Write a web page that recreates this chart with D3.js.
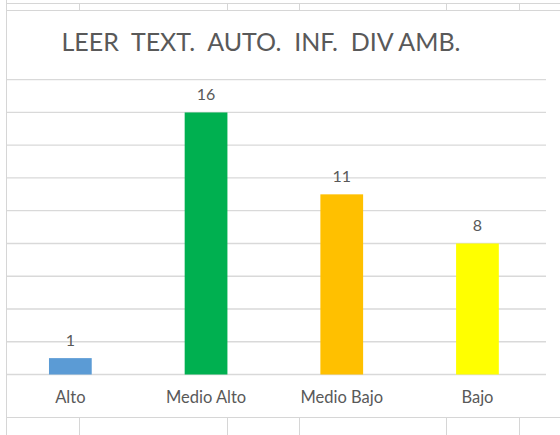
<!DOCTYPE html>
<html><head><meta charset="utf-8">
<script src="https://cdn.jsdelivr.net/npm/d3@7"></script>
<style>html,body{margin:0;padding:0;background:#fff;}svg{display:block;}</style>
</head><body>
<svg id="c" width="560" height="435"></svg>
<script>
const title = "LEER  TEXT.  AUTO.  INF.  DIV AMB.";
const categories = ["Alto", "Medio Alto", "Medio Bajo", "Bajo"];
const values = [1, 16, 11, 8];
const barColors = ["#5B9BD5", "#00B050", "#FFC000", "#FFFF00"];
const yTicks = [0, 2, 4, 6, 8, 10, 12, 14, 16, 18];
const cellCols = [79, 227, 299, 446, 519];

const svg = d3.select("#c");
const W = 560, H = 435;
const font = "Lato, 'Open Sans', sans-serif";
const textColor = "#595959";

// spreadsheet background grid
const bg = svg.append("g").attr("stroke", "#d6d6d6").attr("stroke-width", 1).attr("shape-rendering", "crispEdges");
bg.append("line").attr("x1", 7).attr("x2", W).attr("y1", 3.5).attr("y2", 3.5);
bg.append("line").attr("x1", 7).attr("x2", W).attr("y1", 10.5).attr("y2", 10.5);
bg.append("line").attr("x1", 7).attr("x2", W).attr("y1", 417.5).attr("y2", 417.5);
bg.append("line").attr("x1", 6.5).attr("x2", 6.5).attr("y1", 0).attr("y2", H);
cellCols.forEach(x => {
  bg.append("line").attr("x1", x + 0.5).attr("x2", x + 0.5).attr("y1", 3.5).attr("y2", 10.5);
  bg.append("line").attr("x1", x + 0.5).attr("x2", x + 0.5).attr("y1", 417.5).attr("y2", H);
});

// scales
const x = d3.scaleBand().domain(categories).range([2.5, 545.3]).paddingInner(0.685).paddingOuter(0.3425);
const y = d3.scaleLinear().domain([0, 18]).range([374.5, 79.7]);

// gridlines
const grid = svg.append("g");
grid.selectAll("line").data(yTicks).join("line")
  .attr("x1", 7).attr("x2", 546)
  .attr("y1", d => y(d)).attr("y2", d => y(d))
  .attr("stroke", "#d9d9d9").attr("stroke-width", 1.3);

// bars
svg.append("g").selectAll("rect").data(values).join("rect")
  .attr("x", (d, i) => x(categories[i]))
  .attr("width", x.bandwidth())
  .attr("y", d => y(d))
  .attr("height", d => y(0) - y(d))
  .attr("fill", (d, i) => barColors[i]);

// data labels
svg.append("g").selectAll("text").data(values).join("text")
  .attr("x", (d, i) => x(categories[i]) + x.bandwidth() / 2)
  .attr("y", d => y(d) - 12)
  .attr("text-anchor", "middle")
  .attr("font-family", font).attr("font-size", 16)
  .attr("fill", textColor)
  .text(d => d);

// category axis labels
const xAxis = d3.axisBottom(x).tickSize(0).tickPadding(0);
const ax = svg.append("g").attr("transform", "translate(0,374.5)").call(xAxis);
ax.select(".domain").remove();
ax.selectAll("text")
  .attr("y", 28).attr("dy", 0)
  .attr("font-family", font).attr("font-size", 16.5)
  .attr("fill", textColor);

// title
svg.append("text")
  .attr("x", 261).attr("y", 51)
  .attr("text-anchor", "middle")
  .attr("font-family", font).attr("font-size", 25)
  .attr("fill", textColor)
  .style("white-space", "pre")
  .text(title);
</script>
</body></html>
